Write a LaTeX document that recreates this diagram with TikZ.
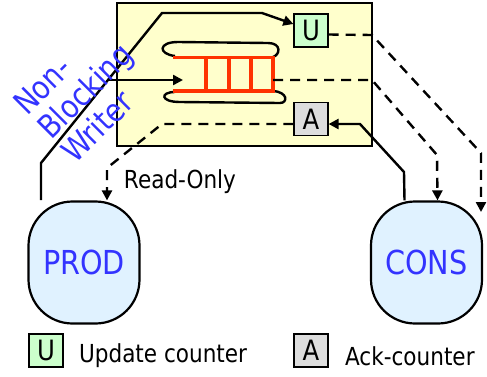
\documentclass[tikz,border=0pt]{standalone}
\usepackage{fontspec}
\setmainfont[FakeStretch=0.87]{DejaVu Sans}
\usetikzlibrary{arrows.meta}
\definecolor{shmyellow}{HTML}{FFFFCC}
\definecolor{updgreen}{HTML}{CCFFCC}
\definecolor{ackgray}{HTML}{DDDDDD}
\definecolor{procblue}{HTML}{E0F2FF}
\definecolor{labelblue}{HTML}{3333FF}
\definecolor{ringred}{HTML}{FF3300}
\tikzset{
    wire/.style={line width=1.2pt},
    dashwire/.style={wire,dash pattern=on 5pt off 3.5pt},
    tip/.style={-{Triangle[length=5pt,width=5pt]}},
    rung/.style={ringred,line width=1.6pt},
    counter/.style={draw,line width=0.6pt,minimum width=17pt,minimum height=16.5pt,inner sep=0pt,font=\fontsize{14}{14}\selectfont},
    proc/.style={draw,line width=1.1pt,fill=procblue,rounded corners=22pt,minimum width=55.5pt,minimum height=61pt,text=labelblue,font=\fontsize{16.5}{16.5}\selectfont}
}
\begin{document}
\begin{tikzpicture}[x=0.5pt,y=-0.5pt]
\useasboundingbox (0,0) rectangle (487,376);
% shared memory area
\draw[fill=shmyellow,line width=0.6pt] (117,3) rectangle (372,146);
\node[counter,fill=updgreen] (U) at (311,30.5) {U};
\node[counter,fill=ackgray] (A) at (311,119) {A};
% ring buffer
\draw[wire] (175,56) .. controls (158,54) and (158,42) .. (178,42) -- (268,43) .. controls (282,43) and (280,55) .. (273,57);
\draw[wire] (175,92) .. controls (160,92) and (160,102) .. (180,102) -- (280,103) .. controls (288,103) and (288,92) .. (273,91);
\draw[rung] (173,57.5) -- (273,57.5) -- (273,91) -- (173,91);
\foreach \x in {206,229,251}
    \draw[rung] (\x,57.5) -- (\x,91);
\coordinate (qin) at (183,80);
\coordinate (qout) at (273,80);
% processes
\node[proc] (PROD) at (84,262.5) {PROD};
\node[proc] (CONS) at (426.5,262.5) {CONS};
\coordinate (pstart) at (41,200);
\coordinate (wfork) at (108,80);
\coordinate (uend) at (481,212);
% writer
\draw[wire,tip] (pstart) -- (41,163) -- (162,13) -- (262,13) -- ([yshift=3.25pt]U.west);
\draw[wire,tip] (wfork) -- (qin);
% reader
\draw[dashwire,tip] (qout) -- (372,80) -- (437,155) -- ([xshift=5.5pt]CONS.north);
\draw[dashwire,tip] ([yshift=-2pt]U.east) -- (372,35) -- (481,153) -- (uend);
\draw[wire,tip] ([xshift=-11pt]CONS.north) -- (404,172) -- (360,124) -- ([yshift=-2.5pt]A.east);
\draw[dashwire,tip] ([yshift=-2.5pt]A.west) -- (162,124) -- (107,168) -- ([xshift=11.5pt]PROD.north);
% labels
\node[font=\fontsize{12.4}{12.4}\selectfont] (ro) at (180,182) {Read-Only};
\node[rotate=45,align=left,text=labelblue,inner sep=0pt,font=\fontsize{16}{17}\selectfont] (nbw) at (85,91) {Non-\\Blocking\\Writer};
% legend
\node[counter,fill=updgreen] (lu) at (46,350.5) {U};
\node[anchor=west,font=\fontsize{12.4}{12.4}\selectfont] (lut) at (72,356) {Update counter};
\node[counter,fill=ackgray] (la) at (311,350.5) {A};
\node[anchor=west,font=\fontsize{12.4}{12.4}\selectfont] (lat) at (338,356) {Ack-counter};
\end{tikzpicture}
\end{document}
